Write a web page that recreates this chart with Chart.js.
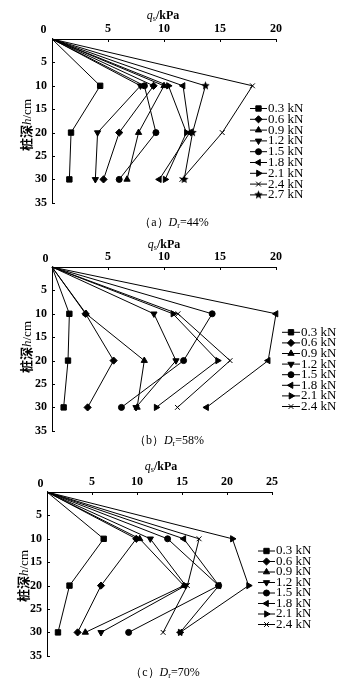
<!DOCTYPE html>
<html><head><meta charset="utf-8">
<script src="https://cdn.jsdelivr.net/npm/chart.js@4/dist/chart.umd.min.js"></script>
<style>
html,body{margin:0;padding:0;background:#fff;}
body{width:352px;height:690px;position:relative;overflow:hidden;font-family:'Liberation Serif',serif;color:#000;}
canvas.c{position:absolute;left:0;}
.t{position:absolute;white-space:nowrap;font-size:12px;line-height:1;transform:translate(-50%,-50%);}
.b{font-weight:bold;}
.yt{position:absolute;white-space:nowrap;font-size:13px;line-height:1;transform:translate(-50%,-50%) rotate(-90deg);}
.cj{font-family:'Noto Sans CJK SC',sans-serif;font-weight:bold;}
sub{font-size:8px;vertical-align:-2px;line-height:0;}
</style>
</head><body>
<canvas id="ca" class="c" width="352" height="215" style="top:0px"></canvas>
<canvas id="cb" class="c" width="352" height="215" style="top:228px"></canvas>
<canvas id="cc" class="c" width="352" height="215" style="top:453px"></canvas>

<div class="t" style="left:163px;top:15px"><i>q</i><sub>s</sub><b>/kPa</b></div>
<div class="t b" style="left:43.5px;top:29px">0</div>
<div class="yt" style="left:26px;top:125px"><span class="cj">桩深</span><i>h</i>/cm</div>
<div class="t" style="left:174px;top:222px">（a）<i>D</i><sub>r</sub>=44%</div>

<div class="t" style="left:164px;top:244px"><i>q</i><sub>s</sub><b>/kPa</b></div>
<div class="t b" style="left:45.5px;top:258px">0</div>
<div class="yt" style="left:26px;top:347px"><span class="cj">桩深</span><i>h</i>/cm</div>
<div class="t" style="left:169px;top:440px">（b）<i>D</i><sub>r</sub>=58%</div>

<div class="t" style="left:161px;top:466px"><i>q</i><sub>s</sub><b>/kPa</b></div>
<div class="t b" style="left:40.5px;top:483px">0</div>
<div class="yt" style="left:23px;top:576px"><span class="cj">桩深</span><i>h</i>/cm</div>
<div class="t" style="left:165px;top:672px">（c）<i>D</i><sub>r</sub>=70%</div>

<script>
// ---- data ----
const depths = [0, 10, 20, 30];           // pile depth h / cm
const yTicks = [0, 5, 10, 15, 20, 25, 30, 35];
const xTicksA = [0, 5, 10, 15, 20];
const xTicksB = [0, 5, 10, 15, 20];
const xTicksC = [0, 5, 10, 15, 20, 25];
const loadsA = ['0.3 kN','0.6 kN','0.9 kN','1.2 kN','1.5 kN','1.8 kN','2.1 kN','2.4 kN','2.7 kN'];
const loadsBC = ['0.3 kN','0.6 kN','0.9 kN','1.2 kN','1.5 kN','1.8 kN','2.1 kN','2.4 kN'];

// (a) Dr = 44%  qs / kPa at depths 0,10,20,30
const a03 = [0, 4.3, 1.7, 1.55];
const a06 = [0, 9.07, 6.0, 4.6];
const a09 = [0, 10.0, 7.73, 6.7];
const a12 = [0, 7.9, 4.07, 3.87];
const a15 = [0, 8.25, 9.28, 6.0];
const a18 = [0, 11.7, 12.3, 9.58];
const a21 = [0, 10.4, 12.0, 10.1];
const a24 = [0, 17.9, 15.2, 11.6];
const a27 = [0, 13.7, 12.55, 11.8];

// (b) Dr = 58%
const b03 = [0, 1.55, 1.43, 1.04];
const b06 = [0, 3.0, 5.5, 3.18];
const b09 = [0, 3.05, 8.24, 7.6];
const b12 = [0, 9.1, 11.07, 7.5];
const b15 = [0, 14.3, 11.75, 6.2];
const b18 = [0, 20.0, 19.3, 13.8];
const b21 = [0, 10.8, 14.79, 9.3];
const b24 = [0, 11.25, 15.9, 11.2];

// (c) Dr = 70%
const c03 = [0, 6.3, 2.5, 1.22];
const c06 = [0, 9.92, 6.0, 3.4];
const c09 = [0, 10.3, 15.2, 4.26];
const c12 = [0, 11.48, 15.4, 6.0];
const c15 = [0, 13.4, 19.07, 9.07];
const c18 = [0, 15.2, 19.1, 14.8];
const c21 = [0, 20.6, 22.4, 14.8];
const c24 = [0, 16.9, 15.6, 12.9];

// ---- styles ----
function makeStar(r) {
  const s = Math.ceil(r * 2 + 2);
  const cv = document.createElement('canvas');
  cv.width = s; cv.height = s;
  const g = cv.getContext('2d');
  g.fillStyle = '#000';
  g.beginPath();
  for (let i = 0; i < 10; i++) {
    const rr = i % 2 === 0 ? r : r * 0.45;
    const ang = -Math.PI / 2 + i * Math.PI / 5;
    const px = s / 2 + rr * Math.cos(ang), py = s / 2 + rr * Math.sin(ang);
    if (i === 0) g.moveTo(px, py); else g.lineTo(px, py);
  }
  g.closePath(); g.fill();
  return cv;
}
const star = makeStar(4.5);
const mStyles = ['rect','rectRot','triangle','triangle','circle','triangle','triangle','crossRot', star];
const mRot    = [0, 0, 0, 180, 0, 270, 90, 0, 0];
const mRad    = [3.8, 3.6, 3.6, 3.6, 3, 3.6, 3.6, 3.4, 4.5];

Chart.defaults.font.family = "'Liberation Serif', serif";
Chart.defaults.font.size = 12;
Chart.defaults.color = '#000';

const inwardTicks = {
  id: 'inwardTicks',
  afterDraw(chart) {
    const ctx = chart.ctx, ca = chart.chartArea;
    const xs = chart.scales.x, ys = chart.scales.y;
    ctx.save();
    ctx.strokeStyle = '#000'; ctx.lineWidth = 1;
    ctx.beginPath();
    xs.ticks.forEach(t => {
      const px = Math.round(xs.getPixelForValue(t.value)) + 0.5;
      ctx.moveTo(px, ca.top); ctx.lineTo(px, ca.top + 3);
    });
    ys.ticks.forEach(t => {
      const py = Math.round(ys.getPixelForValue(t.value)) + 0.5;
      ctx.moveTo(ca.left, py); ctx.lineTo(ca.left + 3, py);
    });
    ctx.stroke();
    ctx.restore();
  }
};

const sideLegend = {
  id: 'sideLegend',
  afterDraw(chart, args, o) {
    const ctx = chart.ctx;
    ctx.save();
    chart.data.datasets.forEach((ds, i) => {
      const y = o.y0 + i * o.dy;
      ctx.strokeStyle = '#000'; ctx.fillStyle = '#000'; ctx.lineWidth = 1;
      ctx.beginPath(); ctx.moveTo(o.x0, y); ctx.lineTo(o.x0 + o.len, y); ctx.stroke();
      Chart.helpers.drawPoint(ctx, {pointStyle: ds.pointStyle, rotation: ds.pointRotation, radius: mRad[i], borderWidth: 1}, o.x0 + o.len / 2, y);
      ctx.font = "13px 'Liberation Serif', serif";
      ctx.textBaseline = 'middle'; ctx.textAlign = 'left';
      ctx.fillText(ds.label, o.x0 + o.len + 1, y);
    });
    ctx.restore();
  }
};

function buildSets(labels, series) {
  return series.map((vals, i) => ({
    label: labels[i],
    data: depths.map((d, k) => ({x: vals[k], y: d})),
    borderColor: '#000', backgroundColor: '#000', borderWidth: 1,
    pointStyle: mStyles[i], pointRotation: mRot[i],
    pointRadius: c => c.dataIndex === 0 ? 0 : mRad[i],
    pointBorderWidth: 1, showLine: true, tension: 0, clip: false
  }));
}

function makeChart(id, labels, series, xTicks, yW, padR, legend) {
  const xMax = xTicks[xTicks.length - 1];
  new Chart(document.getElementById(id), {
    type: 'scatter',
    data: {datasets: buildSets(labels, series)},
    options: {
      responsive: false, animation: false, events: [],
      layout: {padding: {left: 0, top: 0, right: padR, bottom: 11}},
      plugins: {legend: {display: false}, tooltip: {enabled: false}, sideLegend: legend},
      scales: {
        x: {
          type: 'linear', position: 'top', min: xTicks[0], max: xMax,
          afterBuildTicks: s => { s.ticks = xTicks.map(v => ({value: v})); },
          afterFit: s => { s.height = 39; },
          grid: {drawOnChartArea: false, drawTicks: false},
          border: {color: '#000', width: 1},
          ticks: {padding: 3, font: {weight: 'bold', size: 12}, callback: v => v === 0 ? '' : String(v)}
        },
        y: {
          type: 'linear', reverse: true, min: 0, max: 35,
          afterBuildTicks: s => { s.ticks = yTicks.map(v => ({value: v})); },
          afterFit: s => { s.width = yW; },
          grid: {drawOnChartArea: false, drawTicks: false},
          border: {color: '#000', width: 1},
          ticks: {padding: 5, font: {weight: 'bold', size: 12}, callback: v => v === 0 ? '' : String(v)}
        }
      }
    },
    plugins: [inwardTicks, sideLegend]
  });
}

makeChart('ca', loadsA, [a03,a06,a09,a12,a15,a18,a21,a24,a27], xTicksA, 52, 76, {x0: 250, y0: 108.5, dy: 10.8, len: 17});
makeChart('cb', loadsBC, [b03,b06,b09,b12,b15,b18,b21,b24], xTicksB, 52, 76, {x0: 282, y0: 332.3 - 228, dy: 10.6, len: 18});
makeChart('cc', loadsBC, [c03,c06,c09,c12,c15,c18,c21,c24], xTicksC, 47, 80, {x0: 258, y0: 551 - 453, dy: 10.5, len: 17});
</script>
</body></html>
